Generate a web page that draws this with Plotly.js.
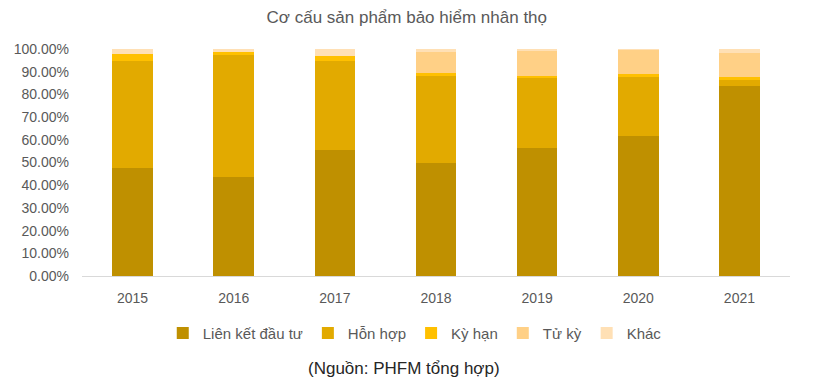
<!DOCTYPE html>
<html><head><meta charset="utf-8">
<script src="https://cdn.plot.ly/plotly-3.0.1.min.js"></script>
<style>html,body{margin:0;padding:0;background:#fff}</style>
</head><body><div id="chart" style="width:837px;height:385px"></div>
<script>
const years = ["2015","2016","2017","2018","2019","2020","2021"];
const lienKet = [0.475,0.438,0.557,0.500,0.566,0.618,0.838];
const honHop  = [0.472,0.536,0.390,0.381,0.306,0.259,0.025];
const kyHan   = [0.031,0.013,0.022,0.013,0.009,0.013,0.014];
const tuKy    = [0.000,0.000,0.000,0.093,0.110,0.106,0.105];
const khac    = [0.022,0.013,0.031,0.013,0.009,0.004,0.018];
const names = ["Liên kết đầu tư","Hỗn hợp","Kỳ hạn","Tử kỳ","Khác"];
const colors = ["#BF9000","#E2AA00","#FFC000","#FFD086","#FFE0B5"];
const series = [lienKet,honHop,kyHan,tuKy,khac];
const traces = series.map((s,i)=>({type:"bar",x:years,y:s,name:names[i],marker:{color:colors[i]},hoverinfo:"y"}));
const layout = {
  width:837,height:385,barmode:"stack",bargap:0.6,
  margin:{l:82,r:47,t:49,b:109},
  paper_bgcolor:"#fff",plot_bgcolor:"#fff",
  font:{family:"Liberation Sans, Arial, sans-serif",color:"#595959",size:13},
  title:{text:"Cơ cấu sản phẩm bảo hiểm nhân thọ",x:0.486,xanchor:"center",y:0.955,yanchor:"middle",font:{size:17,color:"#595959"}},
  xaxis:{showline:true,linecolor:"#d9d9d9",linewidth:1,ticks:"",tickfont:{size:14,color:"#595959"},ticklabelstandoff:9},
  yaxis:{range:[0,1],tickvals:[0,0.1,0.2,0.3,0.4,0.5,0.6,0.7,0.8,0.9,1.0],tickformat:".2%",showgrid:false,zeroline:false,ticks:"",tickfont:{size:14,color:"#595959"},ticklabelstandoff:12},
  legend:{orientation:"h",x:0.47,xanchor:"center",y:-0.18,yanchor:"top",font:{size:15,color:"#595959"},traceorder:"normal",itemwidth:30},
  annotations:[{text:"(Nguồn: PHFM tổng hợp)",xref:"paper",yref:"paper",x:0.455,xanchor:"center",y:-0.357,yanchor:"top",showarrow:false,font:{size:17,color:"#262626"}}]
};
Plotly.newPlot("chart",traces,layout,{displayModeBar:false,staticPlot:true});
</script></body></html>
